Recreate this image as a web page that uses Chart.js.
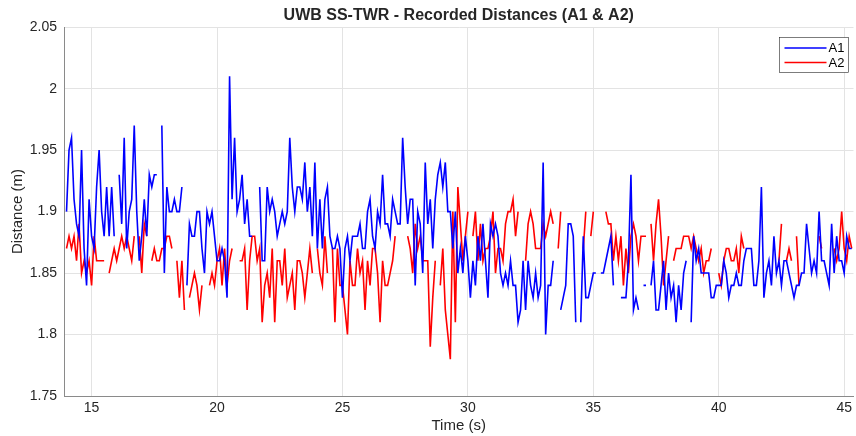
<!DOCTYPE html>
<html>
<head>
<meta charset="utf-8">
<script src="https://cdn.jsdelivr.net/npm/chart.js@4.4.1/dist/chart.umd.min.js"></script>
<style>
  html, body { margin: 0; padding: 0; background: #fff; }
  #wrap { width: 856px; height: 436px; }
</style>
</head>
<body>
<div id="wrap"><canvas id="myChart" width="856" height="436"></canvas></div>
<script>
// sampling of the recording (s)
const startTime = 14.0;
const sampleStep = 0.1;

// A1 distances (m), null = dropped sample
const a1 = [
    1.90, 1.95, 1.96, 1.91, 1.89, 1.88, 1.95, 1.87, 1.84, 1.91,
    1.88, 1.87, 1.92, 1.95, 1.90, 1.88, 1.92, 1.88, 1.92, 1.88,
    null, 1.93, 1.89, 1.96, 1.87, 1.90, 1.91, 1.97, 1.90, 1.86,
    1.88, 1.91, 1.88, 1.93, 1.92, 1.93, 1.93, null, 1.97, 1.85,
    1.92, 1.90, 1.90, 1.91, 1.90, 1.90, 1.92, null, 1.84, 1.89,
    1.88, 1.88, 1.90, 1.90, 1.87, 1.85, 1.90, 1.89, 1.90, 1.88,
    1.86, 1.86, 1.87, 1.86, 1.83, 2.01, 1.91, 1.96, 1.90, 1.91,
    1.93, 1.89, 1.91, 1.88, 1.88, null, null, 1.92, 1.86, 1.86,
    1.92, 1.90, 1.91, 1.90, 1.88, 1.89, 1.90, 1.89, 1.90, 1.96,
    1.92, 1.90, 1.92, 1.92, 1.91, 1.94, 1.90, 1.92, 1.88, 1.94,
    1.87, 1.91, 1.87, 1.91, 1.92, 1.88, 1.87, 1.87, 1.88, 1.87,
    1.83, 1.87, 1.88, 1.86, 1.88, 1.88, 1.88, 1.89, 1.87, 1.87,
    1.90, 1.91, 1.88, 1.87, 1.90, 1.89, 1.93, 1.89, 1.89, 1.88,
    1.91, 1.90, 1.89, 1.89, 1.96, 1.92, 1.89, 1.91, 1.91, 1.84,
    1.90, 1.89, 1.85, 1.94, 1.89, 1.91, 1.87, 1.91, 1.93, 1.94,
    1.92, 1.94, 1.90, 1.90, 1.87, 1.90, 1.85, 1.87, 1.85, 1.88,
    1.86, 1.83, 1.86, 1.84, 1.88, 1.86, 1.89, 1.86, 1.83, 1.89,
    1.88, 1.89, 1.88, 1.85, 1.84, 1.85, 1.84, 1.86, 1.84, 1.84,
    1.81, 1.82, 1.86, 1.82, 1.86, 1.84, 1.83, 1.85, 1.83, 1.84,
    1.94, 1.80, 1.84, 1.84, 1.86, null, null, 1.82, 1.83, 1.84,
    1.89, 1.89, 1.88, 1.81, null, 1.81, 1.88, 1.83, 1.83, 1.84,
    1.85, 1.85, null, 1.85, 1.85, 1.86, 1.87, 1.88, 1.84, null,
    null, 1.83, 1.83, 1.83, 1.86, 1.93, 1.82, 1.83, 1.82, null,
    1.84, 1.84, null, 1.84, 1.86, 1.82, 1.82, 1.84, 1.86, 1.82,
    1.85, 1.83, 1.84, 1.81, 1.84, 1.82, 1.85, 1.86, null, 1.81,
    1.88, 1.86, 1.87, 1.85, 1.85, 1.85, 1.85, 1.83, 1.83, 1.84,
    1.84, 1.84, 1.86, 1.85, 1.83, 1.84, 1.84, 1.85, 1.84, 1.84,
    1.86, 1.87, 1.87, 1.87, 1.84, 1.84, 1.86, 1.92, 1.83, 1.85,
    1.86, 1.84, 1.88, 1.85, 1.86, 1.84, 1.86, 1.86, 1.85, 1.84,
    1.83, 1.84, 1.84, 1.85, 1.85, 1.89, 1.87, 1.85, 1.86, 1.85,
    1.90, 1.86, 1.86, 1.85, 1.84, 1.89, 1.85, 1.88, 1.86, 1.86,
    1.85, 1.88, 1.87, 1.87
];

// A2 distances (m), null = dropped sample
const a2 = [
    1.87, 1.88, 1.87, 1.88, 1.86, 1.89, 1.85, 1.86, 1.85, 1.86,
    1.84, 1.88, 1.86, 1.86, 1.86, 1.86, null, 1.85, 1.86, 1.87,
    1.86, 1.87, 1.88, 1.87, 1.88, 1.87, 1.86, 1.88, null, 1.88,
    1.85, 1.89, 1.88, null, 1.86, 1.87, 1.86, 1.86, 1.87, 1.87,
    1.88, 1.88, 1.87, null, 1.86, 1.83, 1.86, 1.82, null, 1.83,
    1.84, 1.85, 1.84, 1.82, 1.84, null, null, 1.84, 1.85, 1.84,
    1.86, 1.87, 1.84, 1.87, 1.84, 1.86, 1.87, null, null, 1.86,
    1.86, 1.87, 1.82, 1.86, 1.88, 1.88, 1.86, 1.87, 1.81, 1.84,
    1.85, 1.83, 1.87, 1.81, 1.86, 1.86, 1.84, 1.87, 1.83, 1.84,
    1.85, 1.82, 1.86, 1.86, 1.85, 1.83, 1.85, 1.87, 1.85, null,
    1.87, 1.85, 1.84, 1.88, 1.85, null, 1.87, 1.81, 1.87, 1.84,
    1.84, 1.82, 1.80, 1.86, 1.84, 1.84, 1.87, 1.85, 1.86, 1.82,
    1.86, 1.84, 1.87, 1.87, 1.85, 1.81, 1.86, 1.84, 1.84, 1.85,
    1.86, 1.88, null, null, null, null, 1.88, 1.87, 1.85, 1.89,
    1.87, 1.88, 1.86, 1.86, 1.86, 1.79, 1.83, 1.86, null, 1.84,
    1.87, 1.82, 1.80, 1.78, 1.90, 1.81, 1.92, 1.89, 1.86, 1.88,
    1.90, null, 1.88, 1.90, 1.86, 1.89, 1.86, 1.87, 1.87, 1.88,
    1.90, 1.85, 1.87, 1.87, 1.86, 1.89, 1.90, 1.90, 1.91, 1.88,
    1.90, null, null, 1.86, 1.89, 1.90, 1.89, 1.87, 1.87, 1.87,
    1.89, 1.88, 1.89, 1.90, 1.89, null, 1.87, 1.90, null, null,
    null, null, null, null, null, null, 1.87, 1.90, null, 1.88,
    1.90, null, 1.87, null, null, 1.90, 1.89, 1.89, 1.86, 1.88,
    1.86, 1.88, 1.84, 1.87, 1.85, 1.88, 1.89, 1.88, 1.86, 1.88,
    1.88, 1.88, null, 1.89, 1.86, 1.89, 1.91, 1.88, 1.84, 1.86,
    1.88, null, 1.86, 1.87, 1.87, 1.87, 1.88, 1.88, 1.88, 1.87,
    1.88, 1.87, 1.86, 1.87, 1.85, 1.86, 1.86, 1.87, null, null,
    1.85, 1.84, 1.86, 1.87, 1.87, 1.86, 1.86, 1.87, 1.85, 1.88,
    1.87, null, null, null, null, null, null, null, null, null,
    null, null, null, null, 1.86, 1.89, null, 1.86, 1.87, 1.86,
    null, 1.88, 1.84, null, null, null, null, null, null, null,
    1.88, 1.87, null, null, null, null, 1.87, 1.86, 1.87, 1.90,
    1.87, 1.86, 1.88, 1.87
];

const xTicks = [15, 20, 25, 30, 35, 40, 45];
const yTicks = [1.75, 1.8, 1.85, 1.9, 1.95, 2, 2.05];
const xRange = [13.9, 45.37];
const yRange = [1.75, 2.05];

const time = a1.map((_, i) => +(startTime + i * sampleStep).toFixed(1));

const FONT = 'Arial, "Liberation Sans", Helvetica, sans-serif';
const TEXT = '#262626';

// legend box drawn inside the axes, top right
const boxLegend = {
    id: 'boxLegend',
    afterDraw(chart) {
        const ctx = chart.ctx;
        const x0 = 779.5, y0 = 37.5, w = 69, h = 35;
        ctx.save();
        ctx.fillStyle = '#fff';
        ctx.fillRect(x0, y0, w, h);
        ctx.strokeStyle = '#262626';
        ctx.lineWidth = 0.6;
        ctx.strokeRect(x0, y0, w, h);
        ctx.font = '13px ' + FONT;
        ctx.textBaseline = 'middle';
        chart.data.datasets.forEach((ds, i) => {
            const y = y0 + 10.5 + i * 14.5;
            ctx.strokeStyle = ds.borderColor;
            ctx.lineWidth = ds.borderWidth;
            ctx.beginPath();
            ctx.moveTo(x0 + 5, y);
            ctx.lineTo(x0 + 47, y);
            ctx.stroke();
            ctx.fillStyle = '#000';
            ctx.fillText(ds.label, x0 + 49, y + 0.5);
        });
        ctx.restore();
    }
};

const config = {
    type: 'line',
    data: {
        labels: time,
        datasets: [{
            label: 'A1',
            data: a1,
            borderColor: 'rgb(0, 0, 255)',
            backgroundColor: 'rgb(0, 0, 255)',
            borderWidth: 1.6,
            pointRadius: 0,
            spanGaps: false,
            tension: 0
        }, {
            label: 'A2',
            data: a2,
            borderColor: 'rgb(255, 0, 0)',
            backgroundColor: 'rgb(255, 0, 0)',
            borderWidth: 1.6,
            pointRadius: 0,
            spanGaps: false,
            tension: 0
        }]
    },
    options: {
        responsive: false,
        animation: false,
        layout: { padding: 0 },
        plugins: {
            legend: { display: false },
            tooltip: { enabled: false },
            title: {
                display: true,
                text: 'UWB SS-TWR - Recorded Distances (A1 & A2)',
                color: TEXT,
                fullSize: false,
                font: { family: FONT, size: 16, weight: 'bold' },
                padding: { top: 6, bottom: 2 }
            }
        },
        scales: {
            x: {
                type: 'linear',
                min: xRange[0],
                max: xRange[1],
                afterFit: s => { s.height = 40; },
                afterBuildTicks: s => { s.ticks = xTicks.map(v => ({ value: v })); },
                ticks: {
                    color: TEXT,
                    font: { family: FONT, size: 14 },
                    padding: 4,
                    maxRotation: 0,
                    autoSkip: false,
                    callback: v => String(v)
                },
                grid: { color: '#e3e3e3', drawTicks: false },
                border: { color: '#8a8a8a', width: 1 },
                title: {
                    display: true,
                    text: 'Time (s)',
                    color: TEXT,
                    font: { family: FONT, size: 15 },
                    padding: { top: 0, bottom: 1 }
                }
            },
            y: {
                type: 'linear',
                min: yRange[0],
                max: yRange[1],
                afterFit: s => { s.width = 64; },
                afterBuildTicks: s => { s.ticks = yTicks.map(v => ({ value: v })); },
                ticks: {
                    color: TEXT,
                    font: { family: FONT, size: 14 },
                    padding: 7,
                    autoSkip: false,
                    callback: v => String(v)
                },
                grid: { color: '#e3e3e3', drawTicks: false },
                border: { color: '#8a8a8a', width: 1 },
                title: {
                    display: true,
                    text: 'Distance (m)',
                    color: TEXT,
                    font: { family: FONT, size: 15 },
                    padding: { top: 9, bottom: 0 }
                }
            }
        }
    },
    plugins: [boxLegend]
};

const myChart = new Chart(document.getElementById('myChart'), config);
</script>
</body>
</html>
